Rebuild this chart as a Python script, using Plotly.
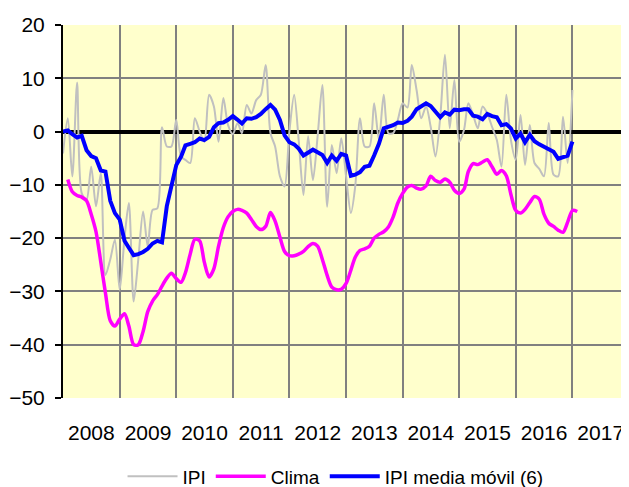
import pandas as pd
import plotly.graph_objects as go

# IPI monthly (Jan 2008 - Jan 2017)
ipi = [-4.1, 2.5, -8.4, 9.2, -11.6, -12.8, -6.6, -14, -7.8, -26.9,
       -24, -20.3, -29.7, -20, -13.4, -31.9, -24, -15, -21.6, -14.7,
       -14.4, 0.8, -2.8, -2.8, 2.2, -4.7, -5.3, -5.9, 2.5, 0,
       -1.9, 6.9, 4.7, -1.9, 6.3, 1.25, -0.5, 1.6, -0.3, 5,
       3.4, 5.9, 6.9, 12.5, -0.3, -2.8, -8.4, -10.3, 0, 6.9,
       -1.6, -11.9, -0.9, -9.1, -1, 8.75, -14.1, -2.5, -7.8, -1.25,
       -8.4, -15.3, -10.3, 2.5, -2.8, -2.8, 5.3, -1.6, 6.9, -0.3,
       -0.3, 2.2, 5.3, 4.5, 12.5, 7.8, 2.5, 4.7, 0.9, -4.7,
       2.8, 14.4, 0.6, 9.7, -1.9, 0.3, 5.3, 3.1, 0.6, 4.7,
       3.4, 0.9, -1.6, -6.6, 6.9, -1.6, -5.3, 3.1, -6.25, 1.25,
       -5.9, -7, -8.4, 1.6, -8.1, -8.4, 2.8, -5.9, 7.8]

# Clima monthly (Feb 2008 - Feb 2017)
clima = [-9.0, -11.3, -12.0, -12.3, -13.0, -15.5, -18.8, -24.5, -30.3, -35.5,
         -36.5, -35.2, -34.2, -36.5, -40.0, -40.0, -37.5, -33.8, -31.8, -30.6,
         -29.0, -27.5, -26.6, -27.6, -28.3, -26.5, -23.0, -20.2, -20.5, -24.5,
         -27.3, -25.7, -21.5, -18.0, -16.0, -15.0, -14.6, -14.8, -15.3, -16.5,
         -17.8, -18.4, -17.8, -15.2, -16.8, -19.8, -22.5, -23.3, -23.3, -23.0,
         -22.5, -21.6, -21.0, -21.5, -24.0, -27.0, -29.2, -29.7, -29.6, -28.5,
         -26.0, -23.6, -22.3, -22.0, -21.5, -20.0, -19.3, -18.8, -17.9, -16.0,
         -13.4, -11.6, -10.4, -10.1, -10.6, -10.8, -10.2, -8.4, -9.2, -9.5,
         -8.9, -9.5, -11.0, -11.6, -10.8, -7.5, -6.0, -6.2, -5.7, -5.3,
         -6.6, -8.0, -7.3, -8.3, -11.8, -14.8, -15.3, -14.6, -13.3, -12.2,
         -12.7, -15.5, -17.2, -17.8, -18.5, -18.9, -17.0, -14.8, -15.0]

# IPI media móvil (6), monthly (Jan 2008 - Jan 2017)
ipi_mm = [0, 0.2, -0.5, -1.1, -0.8, -3.5, -4.6, -5.0, -7.3, -7.5,
          -13, -15.3, -16.5, -20.5, -21.8, -23.2, -23.0, -22.6, -22.0, -21.0,
          -20.5, -20.8, -14, -10, -6.3, -4.7, -2.6, -2.3, -2.0, -1.3,
          -1.6, -1.0, 0.8, 1.6, 1.7, 2.2, 2.9, 2.2, 1.5, 2.5,
          2.4, 2.7, 3.3, 4.2, 5.0, 4.1, 2.2, -0.7, -2.0, -2.4,
          -3.2, -4.5, -4.0, -3.4, -3.9, -4.4, -5.9, -4.5, -5.5, -4.2,
          -4.5, -8.3, -8.1, -7.6, -6.6, -6.4, -4.5, -2.3, 0.6, 0.9,
          1.2, 1.7, 1.6, 2.0, 2.8, 4.2, 4.7, 5.3, 4.8, 3.8,
          2.7, 3.6, 3.2, 4.1, 4.0, 4.2, 4.2, 3.0, 2.8, 2.3,
          3.3, 2.9, 2.7, 1.2, 1.4, 0.6, -1.3, -0.4, -2.0, -0.6,
          -1.8, -2.4, -2.9, -3.3, -3.8, -5.1, -4.8, -4.5, -1.9]

ipi_dates = pd.date_range("2008-01-01", periods=len(ipi), freq="MS")
clima_dates = pd.date_range("2008-02-01", periods=len(clima), freq="MS")
mm_dates = pd.date_range("2008-01-01", periods=len(ipi_mm), freq="MS")

y_ticks = [20, 10, 0, -10, -20, -30, -40, -50]

fig = go.Figure()
fig.add_trace(go.Scatter(x=ipi_dates, y=ipi, mode="lines", name="IPI",
                         line=dict(color="#C0C0C0", width=2, shape="spline", smoothing=0.8)))
fig.add_trace(go.Scatter(x=clima_dates, y=clima, mode="lines", name="Clima",
                         line=dict(color="#FF00FF", width=3.5, shape="spline", smoothing=0.8)))
fig.add_trace(go.Scatter(x=mm_dates, y=ipi_mm, mode="lines", name="IPI media móvil (6)",
                         line=dict(color="#0000FF", width=4)))

# page body adds an 8px offset; figure is sized to fill the rest of the window
fig.update_layout(
    width=621, height=479,
    margin=dict(l=55, r=0, t=17, b=89, autoexpand=False),
    paper_bgcolor="white",
    plot_bgcolor="#FFFFCC",
    font=dict(family="Liberation Sans, Arial, sans-serif", size=21, color="black"),
    showlegend=True,
    legend=dict(orientation="h", x=0.4815, xanchor="center", y=-0.21, yanchor="middle",
                font=dict(size=19), bgcolor="rgba(0,0,0,0)", itemwidth=50,
                traceorder="normal"),
    xaxis=dict(
        type="date",
        range=["2008-01-01", "2018-01-01"],
        tick0="2008-01-01", dtick="M12", tickformat="%Y",
        ticklabelmode="period",
        showgrid=True, gridcolor="#808080", gridwidth=2,
        showline=False, zeroline=False, automargin=False,
        ticks="", ticklabelstandoff=20,
        tickfont=dict(size=21),
    ),
    yaxis=dict(
        range=[-50, 20],
        tickvals=y_ticks,
        showgrid=True, gridcolor="#808080", gridwidth=2,
        zeroline=True, zerolinecolor="black", zerolinewidth=4,
        showline=True, linecolor="black", linewidth=2,
        ticks="outside", ticklen=6, tickwidth=2, tickcolor="black",
        ticklabelstandoff=6, automargin=False,
        tickfont=dict(size=21),
    ),
)

fig.write_html("out.html")
